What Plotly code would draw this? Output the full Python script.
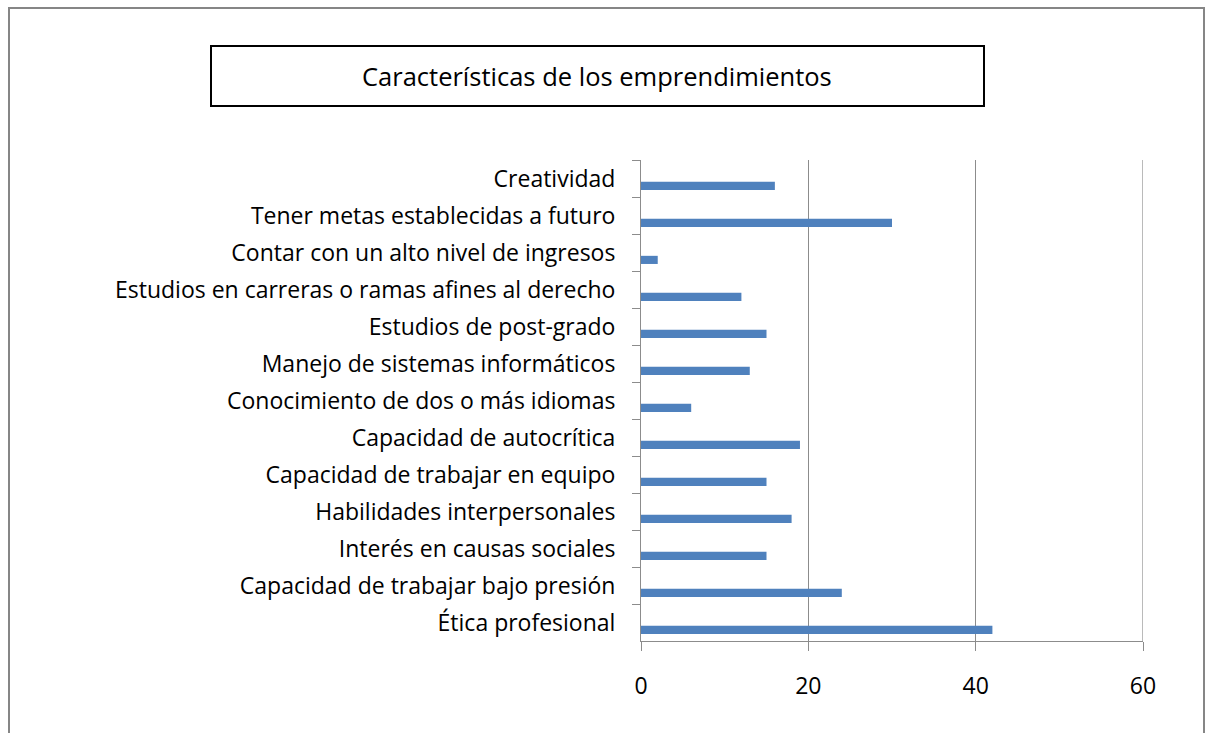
import plotly.graph_objects as go

categories = [
    "Creatividad",
    "Tener metas establecidas a futuro",
    "Contar con un alto nivel de ingresos",
    "Estudios en carreras o ramas afines al derecho",
    "Estudios de post-grado",
    "Manejo de sistemas informáticos",
    "Conocimiento de dos o más idiomas",
    "Capacidad de autocrítica",
    "Capacidad de trabajar en equipo",
    "Habilidades interpersonales",
    "Interés en causas sociales",
    "Capacidad de trabajar bajo presión",
    "Ética profesional",
]
values = [16, 30, 2, 12, 15, 13, 6, 19, 15, 18, 15, 24, 42]
x_ticks = [0, 20, 40, 60]
title_text = "Características de los emprendimientos"

W, H = 1206, 733
L, R, T, B = 641, 1143, 160, 641  # plot area in pixels


def px(x):
    return (x - L) / (R - L)


def py(y):
    return (B - y) / (B - T)


FONT = "Open Sans"
GRAY = "#8C8C8C"
FRAME = "#868686"

fig = go.Figure(
    go.Bar(
        x=values,
        y=categories,
        orientation="h",
        marker=dict(color="#4F81BD", line=dict(width=0)),
        width=0.22,
        offset=0.09,
    )
)

fig.update_layout(
    width=W,
    height=H,
    margin=dict(l=L, r=W - R, t=T, b=H - B, pad=0),
    paper_bgcolor="white",
    plot_bgcolor="white",
    showlegend=False,
    font=dict(family=FONT, size=22, color="#000000"),
    xaxis=dict(
        range=[0, 60],
        tickvals=x_ticks,
        showgrid=True,
        gridcolor=GRAY,
        gridwidth=1,
        showline=True,
        linecolor=GRAY,
        linewidth=1,
        ticks="outside",
        ticklen=9,
        tickcolor=GRAY,
        ticklabelstandoff=15,
        zeroline=False,
        tickfont=dict(family=FONT, size=23),
        fixedrange=True,
    ),
    yaxis=dict(
        categoryorder="array",
        categoryarray=categories,
        autorange="reversed",
        showgrid=False,
        showline=True,
        linecolor=GRAY,
        linewidth=1,
        ticks="outside",
        tickson="boundaries",
        ticklen=8,
        tickcolor=GRAY,
        ticklabelstandoff=20,
        tickfont=dict(family=FONT, size=23),
        fixedrange=True,
    ),
    shapes=[
        # gridline at the axis maximum
        dict(type="line", xref="x", yref="paper",
             x0=x_ticks[-1], x1=x_ticks[-1], y0=0, y1=1,
             line=dict(color=GRAY, width=1.2), layer="below"),
        # outer frame
        dict(type="line", xref="paper", yref="paper",
             x0=px(9), x1=px(9), y0=py(7), y1=py(740),
             line=dict(color=FRAME, width=2)),
        dict(type="line", xref="paper", yref="paper",
             x0=px(8), x1=px(1205), y0=py(8), y1=py(8),
             line=dict(color=FRAME, width=2)),
        dict(type="line", xref="paper", yref="paper",
             x0=px(1204), x1=px(1204), y0=py(7), y1=py(740),
             line=dict(color=FRAME, width=2)),
        # title box
        dict(type="rect", xref="paper", yref="paper",
             x0=px(211), x1=px(984), y0=py(106), y1=py(46),
             line=dict(color="#000000", width=2)),
    ],
    annotations=[
        dict(text=title_text, xref="paper", yref="paper",
             x=px(597), y=py(76), xanchor="center", yanchor="middle",
             showarrow=False, font=dict(family=FONT, size=25.5, color="#000000")),
    ],
)

fig.write_html(
    "out.html",
    config={"displayModeBar": False, "staticPlot": True},
    post_script="document.body.style.margin='0';document.body.style.overflow='hidden';",
)
